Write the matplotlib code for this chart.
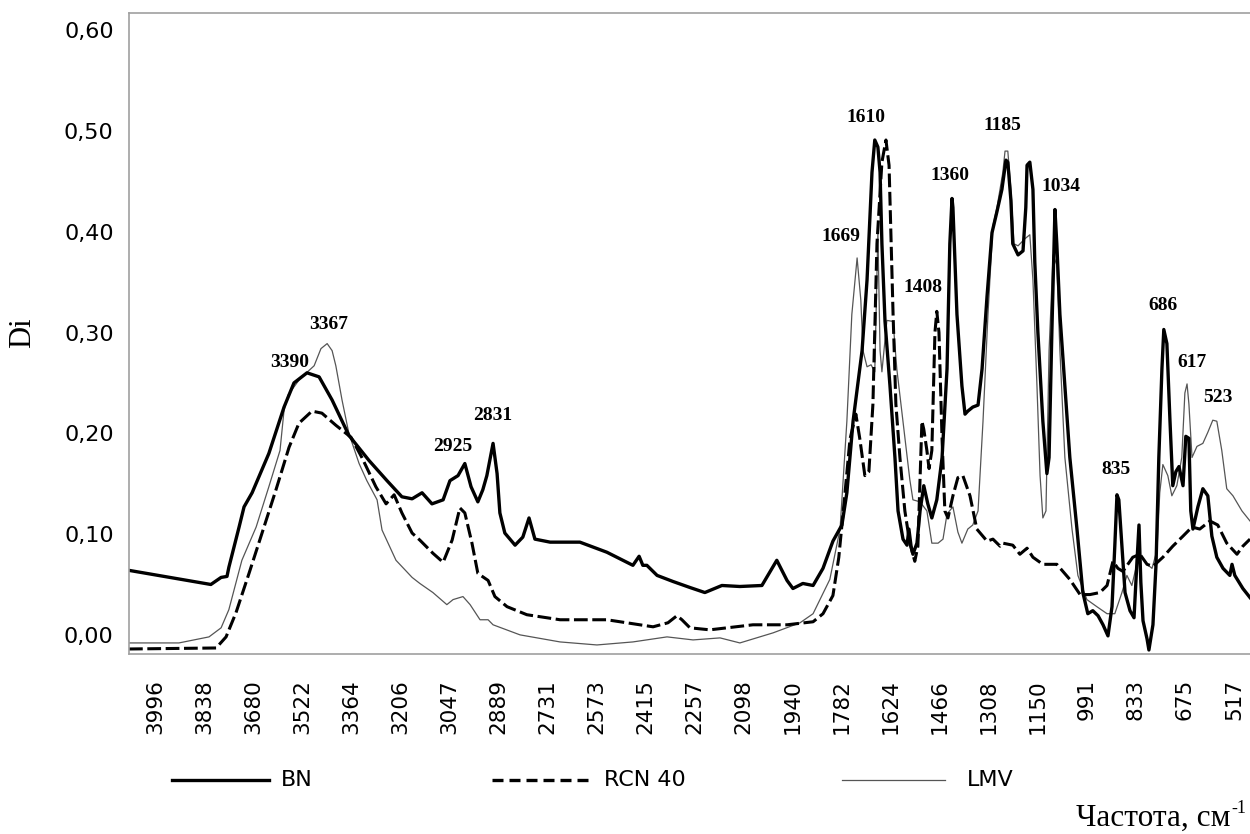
import matplotlib.pyplot as plt
from matplotlib.lines import Line2D

# IR spectra (wavenumber, cm-1 / optical density Di)
bn_wn = [4080, 3816, 3783, 3764, 3758, 3725, 3709, 3683, 3629, 3580, 3548, 3506, 3467, 3425,
         3371, 3306, 3248, 3200, 3167, 3135, 3103, 3067, 3045, 3019, 2997, 2977, 2955, 2939,
         2926, 2906, 2893, 2884, 2868, 2835, 2810, 2790, 2771, 2722, 2626, 2539, 2455, 2435,
         2423, 2410, 2377, 2326, 2271, 2223, 2168, 2110, 2039, 1991, 1958, 1939, 1907, 1874,
         1842, 1810, 1781, 1765, 1745, 1716, 1700, 1684, 1675, 1665, 1658, 1652, 1642, 1626,
         1610, 1600, 1584, 1571, 1565, 1558, 1552, 1539, 1529, 1517, 1504, 1491, 1475, 1458,
         1442, 1433, 1426, 1423, 1410, 1394, 1384, 1375, 1359, 1342, 1329, 1313, 1297, 1281,
         1265, 1252, 1246, 1236, 1230, 1213, 1197, 1188, 1184, 1175, 1165, 1159, 1149, 1133,
         1120, 1113, 1104, 1094, 1088, 1078, 1062, 1046, 1023, 1004, 988, 972, 955, 939, 923,
         910, 901, 894, 888, 878, 868, 852, 839, 830, 823, 817, 810, 797, 791, 778, 768, 759,
         749, 743, 733, 723, 714, 704, 694, 681, 672, 662, 656, 649, 633, 617, 601, 588, 572,
         552, 530, 523, 514, 488, 465]
bn_di = [0.064, 0.050, 0.057, 0.058, 0.067, 0.107, 0.127, 0.141, 0.180, 0.226, 0.250, 0.260,
         0.256, 0.233, 0.198, 0.173, 0.153, 0.137, 0.135, 0.141, 0.130, 0.134, 0.153, 0.158,
         0.170, 0.147, 0.132, 0.144, 0.158, 0.190, 0.160, 0.121, 0.101, 0.089, 0.097, 0.116,
         0.095, 0.092, 0.092, 0.082, 0.069, 0.078, 0.069, 0.069, 0.059, 0.053, 0.047, 0.042,
         0.049, 0.048, 0.049, 0.074, 0.054, 0.046, 0.051, 0.049, 0.066, 0.093, 0.109, 0.141,
         0.212, 0.282, 0.352, 0.459, 0.491, 0.484, 0.459, 0.388, 0.311, 0.247, 0.176, 0.123,
         0.095, 0.089, 0.105, 0.088, 0.080, 0.091, 0.123, 0.148, 0.130, 0.116, 0.134, 0.176,
         0.264, 0.388, 0.433, 0.424, 0.318, 0.247, 0.219, 0.222, 0.226, 0.228, 0.264, 0.336,
         0.399, 0.420, 0.442, 0.471, 0.469, 0.431, 0.388, 0.377, 0.381, 0.424, 0.466, 0.469,
         0.442, 0.370, 0.300, 0.212, 0.160, 0.176, 0.300, 0.422, 0.388, 0.318, 0.247, 0.176,
         0.105, 0.042, 0.021, 0.024, 0.019, 0.010, -0.001, 0.028, 0.088, 0.139, 0.134, 0.088,
         0.042, 0.024, 0.017, 0.070, 0.109, 0.052, 0.014, -0.004, -0.015, 0.010, 0.070, 0.176,
         0.264, 0.303, 0.289, 0.212, 0.148, 0.162, 0.167, 0.148, 0.197, 0.195, 0.123, 0.105,
         0.127, 0.145, 0.138, 0.098, 0.077, 0.066, 0.059, 0.070, 0.059, 0.046, 0.037]

rcn_wn = [4080, 3799, 3767, 3735, 3693, 3651, 3606, 3564, 3532, 3490, 3458, 3413, 3364, 3329,
          3284, 3251, 3225, 3200, 3167, 3142, 3100, 3067, 3038, 3013, 2997, 2974, 2955, 2922,
          2900, 2861, 2797, 2690, 2539, 2390, 2342, 2313, 2297, 2271, 2207, 2068, 1958, 1874,
          1842, 1810, 1791, 1771, 1755, 1736, 1723, 1707, 1694, 1681, 1668, 1652, 1639, 1629,
          1616, 1607, 1594, 1578, 1562, 1546, 1536, 1523, 1517, 1507, 1500, 1491, 1481, 1475,
          1468, 1458, 1449, 1439, 1423, 1407, 1391, 1368, 1346, 1313, 1294, 1271, 1262, 1230,
          1207, 1184, 1165, 1133, 1088, 1046, 1013, 981, 949, 926, 907, 891, 875, 843, 820, 797,
          778, 746, 714, 681, 652, 627, 594, 569, 540, 507, 488, 465]
rcn_di = [-0.014, -0.013, -0.002, 0.022, 0.061, 0.101, 0.144, 0.186, 0.210, 0.222, 0.220,
          0.208, 0.196, 0.176, 0.147, 0.130, 0.139, 0.121, 0.101, 0.094, 0.081, 0.072, 0.094,
          0.126, 0.121, 0.091, 0.061, 0.054, 0.038, 0.028, 0.020, 0.015, 0.015, 0.008, 0.012,
          0.019, 0.015, 0.007, 0.005, 0.010, 0.010, 0.013, 0.021, 0.039, 0.077, 0.141, 0.194,
          0.219, 0.194, 0.158, 0.162, 0.229, 0.388, 0.469, 0.491, 0.466, 0.318, 0.229, 0.176,
          0.123, 0.091, 0.073, 0.088, 0.212, 0.204, 0.183, 0.165, 0.183, 0.300, 0.321, 0.300,
          0.194, 0.123, 0.116, 0.138, 0.156, 0.158, 0.138, 0.105, 0.093, 0.095, 0.088, 0.091,
          0.089, 0.080, 0.086, 0.077, 0.070, 0.070, 0.055, 0.040, 0.040, 0.042, 0.049, 0.073,
          0.066, 0.063, 0.077, 0.080, 0.070, 0.068, 0.077, 0.088, 0.098, 0.107, 0.105, 0.113,
          0.109, 0.091, 0.080, 0.088, 0.095]

lmv_wn = [4080, 3919, 3822, 3783, 3758, 3716, 3670, 3629, 3593, 3580, 3567, 3529, 3483, 3461,
          3441, 3425, 3413, 3393, 3371, 3338, 3313, 3280, 3264, 3219, 3167, 3142, 3100, 3055,
          3035, 3003, 2980, 2948, 2922, 2906, 2819, 2690, 2571, 2455, 2345, 2261, 2174, 2110,
          2003, 1916, 1874, 1820, 1787, 1765, 1749, 1732, 1720, 1713, 1700, 1687, 1675, 1665,
          1658, 1652, 1636, 1616, 1604, 1584, 1562, 1552, 1529, 1507, 1491, 1471, 1455, 1442,
          1423, 1407, 1394, 1375, 1359, 1342, 1326, 1310, 1294, 1281, 1262, 1255, 1246, 1236,
          1226, 1213, 1191, 1175, 1165, 1152, 1142, 1133, 1123, 1113, 1100, 1088, 1078, 1062,
          1039, 1020, 991, 959, 926, 901, 878, 862, 846, 830, 814, 797, 781, 765, 756, 746, 730,
          717, 701, 685, 675, 668, 662, 652, 636, 617, 601, 585, 572, 556, 540, 520, 491, 465]
lmv_di = [-0.008, -0.008, -0.002, 0.007, 0.025, 0.074, 0.107, 0.147, 0.183, 0.223, 0.238,
          0.254, 0.267, 0.284, 0.289, 0.282, 0.267, 0.233, 0.200, 0.170, 0.153, 0.134, 0.104,
          0.074, 0.057, 0.051, 0.042, 0.030, 0.035, 0.038, 0.030, 0.015, 0.015, 0.010, 0.000,
          -0.007, -0.010, -0.007, -0.002, -0.005, -0.003, -0.008, 0.002, 0.012, 0.021, 0.055,
          0.105, 0.212, 0.318, 0.374, 0.332, 0.282, 0.266, 0.268, 0.261, 0.399, 0.282, 0.261,
          0.312, 0.311, 0.264, 0.212, 0.154, 0.134, 0.132, 0.123, 0.091, 0.091, 0.095, 0.120,
          0.127, 0.102, 0.091, 0.105, 0.109, 0.123, 0.212, 0.318, 0.406, 0.424, 0.459, 0.480,
          0.480, 0.442, 0.388, 0.386, 0.393, 0.397, 0.352, 0.247, 0.158, 0.116, 0.123, 0.282,
          0.377, 0.367, 0.282, 0.176, 0.105, 0.059, 0.035, 0.028, 0.021, 0.021, 0.042, 0.059,
          0.049, 0.070, 0.077, 0.070, 0.066, 0.084, 0.141, 0.169, 0.158, 0.138, 0.148, 0.176,
          0.240, 0.249, 0.229, 0.176, 0.187, 0.190, 0.201, 0.213, 0.212, 0.183, 0.145, 0.138,
          0.123, 0.113]

tick_values = [3996, 3838, 3680, 3522, 3364, 3206, 3047, 2889, 2731, 2573, 2415, 2257, 2098,
               1940, 1782, 1624, 1466, 1308, 1150, 991, 833, 675, 517]
y_ticks = [0.0, 0.1, 0.2, 0.3, 0.4, 0.5, 0.6]

peak_labels = ["3390", "3367", "2925", "2831", "1669", "1610", "1360", "1408", "1185",
               "1034", "835", "686", "617", "523"]
peak_x = [3561, 3435, 3035, 2906, 1784, 1704, 1433, 1520, 1262, 1075, 897, 746, 652, 570]
peak_y = [0.270, 0.308, 0.187, 0.218, 0.395, 0.513, 0.456, 0.345, 0.505, 0.445, 0.164,
          0.327, 0.270, 0.236]

fig = plt.figure(figsize=(12.5, 8.34), dpi=100)
ax = fig.add_axes([0.1032, 0.2158, 0.8968, 0.7686])

ax.plot(lmv_wn, lmv_di, color="#555555", lw=0.9, solid_joinstyle="round")
ax.plot(rcn_wn, rcn_di, color="black", lw=2.2, linestyle=(0, (4.5, 1.5)),
        dash_joinstyle="round")
ax.plot(bn_wn, bn_di, color="black", lw=2.4, solid_joinstyle="round")

for lab, x, y in zip(peak_labels, peak_x, peak_y):
    ax.text(x, y, lab, ha="center", va="center", fontsize=14, fontweight="bold",
            family="Liberation Serif")

ax.set_xlim(4080, 465)
ax.set_ylim(-0.019, 0.617)
ax.set_xticks(tick_values)
ax.set_xticklabels([str(v) for v in tick_values], rotation=90, fontsize=15.5)
ax.set_yticks(y_ticks)
ax.set_yticklabels([("%.2f" % v).replace(".", ",") for v in y_ticks], fontsize=16)
ax.tick_params(axis="x", length=0, pad=18)
ax.tick_params(axis="y", length=0, pad=11)
for side in ["left", "top", "bottom"]:
    ax.spines[side].set_color("#a0a0a0")
    ax.spines[side].set_linewidth(1.2)
ax.spines["right"].set_visible(False)

fig.text(23 / 1250, 1 - 333 / 834, "Di", rotation=90, ha="center", va="center",
         fontsize=22, family="Liberation Serif")

# legend below the plot
leg_y = 1 - 780 / 834
fig.add_artist(Line2D([172 / 1250, 269 / 1250], [leg_y, leg_y], color="black", lw=2.4))
fig.add_artist(Line2D([492 / 1250, 588 / 1250], [leg_y, leg_y], color="black", lw=2.4,
                      linestyle=(0, (3.3, 1.8))))
fig.add_artist(Line2D([842 / 1250, 945 / 1250], [leg_y, leg_y], color="#555555", lw=0.9))
fig.text(281 / 1250, leg_y, "BN", va="center", fontsize=16)
fig.text(604 / 1250, leg_y, "RCN 40", va="center", fontsize=16)
fig.text(967 / 1250, leg_y, "LMV", va="center", fontsize=16)

fig.text(1230 / 1250, 1 - 826 / 834, "Частота, см", ha="right", va="baseline",
         fontsize=22.5, family="Liberation Serif")
fig.text(1231 / 1250, 1 - 800 / 834, "-1", ha="left", va="top",
         fontsize=13, family="Liberation Serif")

fig.savefig("out.png", dpi=100)
